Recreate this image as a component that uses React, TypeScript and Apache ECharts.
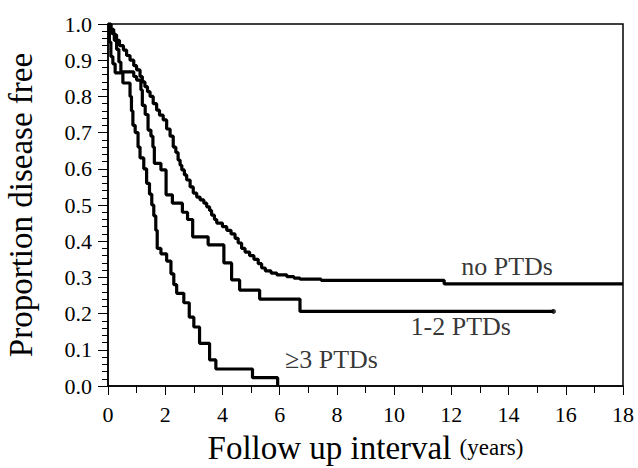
import React, { useEffect, useRef } from "react";
import * as echarts from "echarts";

// Kaplan-Meier curves: time (years) and proportion disease free (value holds from t[i] until t[i+1])
const noPtdTimes = [0,0.1,0.2,0.3,0.4,0.54,0.65,0.77,0.9,1.0,1.12,1.2,1.29,1.38,1.47,1.58,1.7,1.8,1.93,2.05,2.17,2.28,2.37,2.45,2.52,2.58,2.67,2.75,2.87,2.98,3.1,3.22,3.35,3.45,3.55,3.62,3.72,3.8,4.0,4.15,4.3,4.44,4.55,4.67,4.79,4.95,5.1,5.25,5.37,5.5,5.7,5.9,6.25,6.5,6.71,7.45,11.75,18];
const noPtdValues = [1,0.985,0.97,0.955,0.94,0.928,0.913,0.9,0.885,0.873,0.855,0.84,0.827,0.813,0.8,0.78,0.762,0.748,0.735,0.71,0.69,0.66,0.645,0.624,0.61,0.597,0.583,0.569,0.55,0.533,0.522,0.514,0.505,0.495,0.485,0.472,0.46,0.45,0.44,0.43,0.42,0.408,0.395,0.38,0.37,0.36,0.35,0.338,0.326,0.318,0.312,0.307,0.302,0.298,0.295,0.292,0.282,0.282];

const oneTwoTimes = [0,0.1,0.22,0.3,0.38,0.45,0.9,1.0,1.15,1.2,1.3,1.4,1.5,1.57,1.62,1.85,2.03,2.25,2.6,2.78,2.96,3.5,4.05,4.32,4.6,5.3,6.71,15.57];
const oneTwoValues = [1,0.975,0.955,0.93,0.895,0.868,0.855,0.845,0.818,0.775,0.75,0.707,0.69,0.66,0.615,0.597,0.528,0.505,0.48,0.46,0.412,0.39,0.34,0.293,0.265,0.24,0.206,0.206];

const threePlusTimes = [0,0.05,0.1,0.17,0.25,0.52,0.77,0.82,0.87,0.95,1.05,1.12,1.25,1.35,1.45,1.53,1.6,1.67,1.72,1.85,2.05,2.2,2.3,2.4,2.65,2.84,3.0,3.2,3.55,3.77,5.05,5.93];
const threePlusValues = [1,0.95,0.91,0.89,0.865,0.837,0.80,0.76,0.72,0.70,0.66,0.63,0.60,0.56,0.53,0.50,0.47,0.43,0.38,0.365,0.345,0.31,0.28,0.256,0.23,0.19,0.163,0.118,0.072,0.047,0.023,0];

// Curve labels, placed in data coordinates
const labelNames = ["no PTDs", "1-2 PTDs", "\u22653 PTDs"];
const labelTimes = [13.95, 12.33, 7.81];
const labelValues = [0.329, 0.164, 0.073];

const SERIF = "'Liberation Serif', 'Times New Roman', serif";

const zip = (t: number[], v: number[]) => t.map((x, i) => [x, v[i]]);

export default function App() {
  const ref = useRef<HTMLDivElement>(null);
  useEffect(() => {
    document.body.style.margin = "0";
    const chart = echarts.init(ref.current!, null, { renderer: "svg" });
    const lineBase = {
      type: "line" as const,
      step: "end" as const,
      symbol: "none",
      lineStyle: { color: "#000", width: 3.2 },
      silent: true,
    };
    const tickRich = { t: { fontSize: 22, fontFamily: SERIF, color: "#000" } };
    chart.setOption({
      animation: false,
      backgroundColor: "#fff",
      textStyle: { fontFamily: SERIF, color: "#000" },
      grid: {
        left: 108,
        right: 15,
        top: 24,
        bottom: 82,
        show: true,
        borderColor: "#000",
        borderWidth: 1.5,
        containLabel: false,
        outerBoundsMode: "none",
      },
      xAxis: {
        type: "value",
        min: 0,
        max: 18,
        interval: 2,
        name: "{big|Follow up interval }{small|(years)}",
        nameLocation: "middle",
        nameGap: 45,
        nameTextStyle: {
          fontFamily: SERIF,
          rich: {
            big: { fontSize: 33, fontFamily: SERIF, color: "#000" },
            small: { fontSize: 23, fontFamily: SERIF, color: "#000" },
          },
        },
        axisLine: { lineStyle: { color: "#000", width: 1.5 } },
        axisTick: { show: true, length: 9, lineStyle: { color: "#000", width: 1 } },
        minorTick: { show: true, splitNumber: 2, length: 7, lineStyle: { color: "#000", width: 1 } },
        splitLine: { show: false },
        axisLabel: {
          fontSize: 22,
          fontFamily: SERIF,
          color: "#000",
          margin: 17,
          formatter: (v: number) => `{t|${v}}`,
          rich: tickRich,
        },
      },
      yAxis: {
        type: "value",
        min: 0,
        max: 1,
        interval: 0.1,
        name: "Proportion disease free",
        nameLocation: "middle",
        nameRotate: 90,
        nameGap: 71,
        nameTextStyle: { fontSize: 33, fontFamily: SERIF, color: "#000" },
        axisLine: { lineStyle: { color: "#000", width: 1.5 } },
        axisTick: { show: true, length: 10, lineStyle: { color: "#000", width: 1 } },
        minorTick: { show: true, splitNumber: 5, length: 6, lineStyle: { color: "#000", width: 1 } },
        splitLine: { show: false },
        axisLabel: {
          fontSize: 22,
          fontFamily: SERIF,
          color: "#000",
          margin: 16,
          formatter: (v: number) => `{t|${v.toFixed(1)}}`,
          rich: tickRich,
        },
      },
      series: [
        { ...lineBase, name: "no PTDs", data: zip(noPtdTimes, noPtdValues) },
        { ...lineBase, name: "1-2 PTDs", data: zip(oneTwoTimes, oneTwoValues) },
        { ...lineBase, name: "\u22653 PTDs", data: zip(threePlusTimes, threePlusValues) },
        {
          type: "scatter",
          silent: true,
          symbol: "circle",
          symbolSize: 5,
          itemStyle: { color: "#000" },
          data: [[oneTwoTimes[oneTwoTimes.length - 1], oneTwoValues[oneTwoValues.length - 1]]],
        },
        {
          type: "scatter",
          silent: true,
          symbol: "circle",
          symbolSize: 1,
          itemStyle: { color: "rgba(0,0,0,0)" },
          label: {
            show: true,
            position: "inside",
            formatter: "{l|{b}}",
            fontSize: 26,
            fontFamily: SERIF,
            color: "#000",
            rich: { l: { fontSize: 26, fontFamily: SERIF, color: "#000" } },
          },
          data: labelNames.map((n, i) => ({ name: n, value: [labelTimes[i], labelValues[i]] })),
        },
      ],
    });
    return () => chart.dispose();
  }, []);
  return <div ref={ref} style={{ width: 638, height: 468 }} />;
}
